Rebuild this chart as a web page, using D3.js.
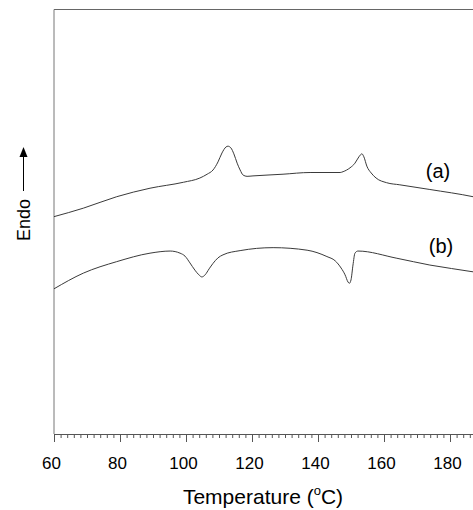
<!DOCTYPE html>
<html>
<head>
<meta charset="utf-8">
<script src="https://cdn.jsdelivr.net/npm/d3@7"></script>
<style>
    body { margin: 0; background: #fff; }
    svg { display: block; font-family: Arial, "Liberation Sans", sans-serif; }
</style>
</head>
<body>
<script>
(function () {

    // temperatures (deg C) and heat flow (arbitrary units, endo up)
    var tempA = [60, 68.9, 79.0, 89.1, 99.2, 104.2, 106.4, 108.2, 109.7, 110.9, 112.1, 112.7, 113.6, 114.5, 115.5, 116.4, 117.3, 118.5, 120.3, 129.4, 137.6, 146.7, 147.6, 149.7, 151.2, 152.4, 153.3, 153.9, 154.8, 156.1, 157.6, 160.8, 164.8, 173.9, 187.0, 190];
    var flowA = [51.2, 53.2, 55.9, 57.9, 59.3, 60.3, 61.2, 62.2, 64.1, 66.2, 67.6, 67.8, 67.4, 66.0, 63.8, 62.2, 61.0, 60.7, 60.8, 61.2, 61.6, 61.6, 61.8, 62.7, 63.8, 65.3, 66.0, 65.3, 63.1, 61.5, 60.3, 59.2, 58.7, 57.6, 55.9, 55.4];

    var tempB = [60, 68.9, 79.0, 89.1, 95.2, 98.2, 99.7, 101.2, 102.7, 103.9, 104.8, 105.8, 107.0, 108.2, 109.7, 111.2, 116.4, 126.4, 136.7, 142.7, 145.2, 147.0, 148.2, 149.1, 149.5, 150.0, 150.6, 151.2, 152.1, 163.9, 173.9, 187.0, 190];
    var flowB = [34.2, 37.9, 40.6, 42.6, 43.1, 42.6, 41.9, 40.3, 38.6, 37.5, 37.0, 37.5, 38.9, 40.2, 41.5, 42.2, 43.2, 43.9, 43.3, 41.8, 40.8, 39.1, 37.5, 35.8, 35.5, 36.3, 39.8, 42.6, 43.1, 41.4, 39.8, 38.2, 37.8];

    var seriesLabels = ["(a)", "(b)"];
    var majorTicks = [60, 80, 100, 120, 140, 160, 180];

    var width = 473,
        height = 510,
        left = 54,
        right = 483,
        top = 9.5,
        bottom = 434;

    var svg = d3.select("body")
        .append("svg")
        .attr("width", width)
        .attr("height", height);

    var x = d3.scaleLinear()
        .domain([60, 190])
        .range([left, right]);

    var y = d3.scaleLinear()
        .domain([0, 100])
        .range([bottom, top]);

    // frame (top and right)
    svg.append("path")
        .attr("d", "M" + left + "," + top + "H" + right + "V" + bottom)
        .attr("fill", "none")
        .attr("stroke", "#666")
        .attr("stroke-width", 1);

    // minor ticks every 2 deg
    var minorAxis = d3.axisBottom(x)
        .tickValues(d3.range(60, 191, 2))
        .tickSize(4)
        .tickFormat("");

    svg.append("g")
        .attr("class", "axis minor")
        .attr("transform", "translate(0," + bottom + ")")
        .call(minorAxis);

    var majorAxis = d3.axisBottom(x)
        .tickValues(majorTicks)
        .tickSize(8)
        .tickSizeOuter(0)
        .tickFormat(d3.format("d"));

    var axis = svg.append("g")
        .attr("class", "axis major")
        .attr("transform", "translate(0," + bottom + ")")
        .call(majorAxis);

    svg.selectAll(".axis path, .axis line")
        .attr("stroke", "#555");
    svg.select(".minor .domain").remove();

    axis.selectAll("text")
        .attr("y", 35)
        .attr("dy", 0)
        .attr("x", -3)
        .attr("fill", "#000")
        .attr("font-size", "17px")
        .attr("font-family", "Arial, 'Liberation Sans', sans-serif");

    // left axis line
    svg.append("line")
        .attr("x1", left).attr("x2", left)
        .attr("y1", top).attr("y2", bottom)
        .attr("stroke", "#777")
        .attr("stroke-width", 1);

    // curves
    var line = d3.line()
        .x(function (d) { return x(d[0]); })
        .y(function (d) { return y(d[1]); })
        .curve(d3.curveMonotoneX);

    var curves = [d3.zip(tempA, flowA), d3.zip(tempB, flowB)];

    svg.selectAll(".curve")
        .data(curves)
        .enter()
        .append("path")
        .attr("class", "curve")
        .attr("d", line)
        .attr("fill", "none")
        .attr("stroke", "#3a3a3a")
        .attr("stroke-width", 1);

    // curve labels
    svg.selectAll(".label")
        .data(seriesLabels)
        .enter()
        .append("text")
        .attr("class", "label")
        .attr("x", function (d, i) { return [438, 441][i]; })
        .attr("y", function (d, i) { return [178, 253][i]; })
        .attr("text-anchor", "middle")
        .attr("font-size", "20px")
        .text(function (d) { return d; });

    // x title
    var title = svg.append("text")
        .attr("x", 263)
        .attr("y", 504)
        .attr("text-anchor", "middle")
        .attr("font-size", "21px");
    title.append("tspan").text("Temperature (");
    title.append("tspan").attr("font-size", "13px").attr("dy", -9).text("o");
    title.append("tspan").attr("dy", 9).text("C)");

    // y title with arrow
    svg.append("text")
        .attr("transform", "translate(30,220) rotate(-90)")
        .attr("text-anchor", "middle")
        .attr("font-size", "18px")
        .text("Endo");

    svg.append("line")
        .attr("x1", 23.5).attr("x2", 23.5)
        .attr("y1", 191).attr("y2", 156)
        .attr("stroke", "#000")
        .attr("stroke-width", 1);

    svg.append("path")
        .attr("d", "M23.5,147 L19.5,157 L27.5,157 Z")
        .attr("fill", "#000");

})();
</script>
</body>
</html>
